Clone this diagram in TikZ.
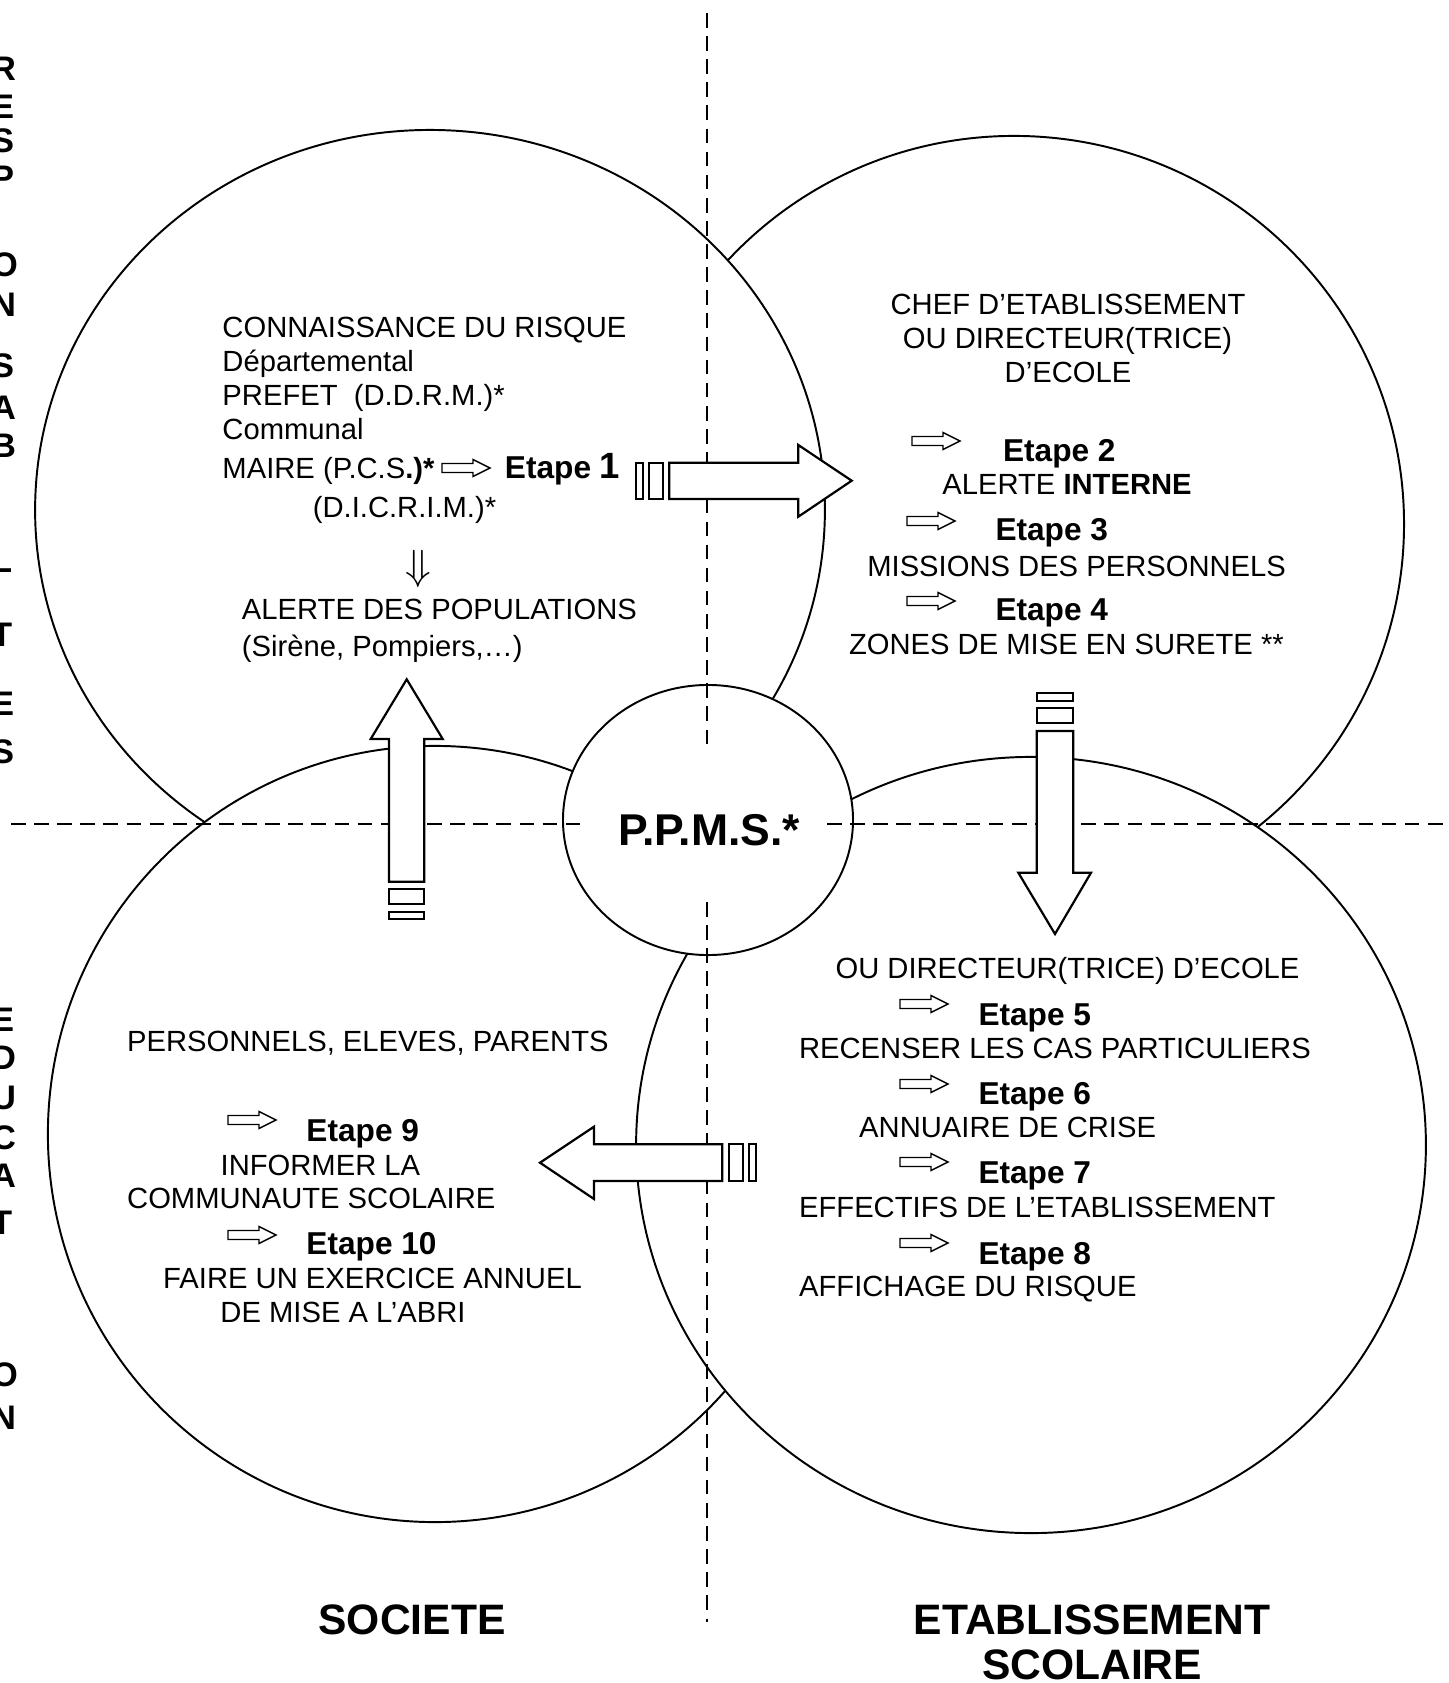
\documentclass[tikz,border=0pt]{standalone}
\usepackage{fontspec}
\setmainfont{Liberation Sans}
\usetikzlibrary{shapes.geometric}
\newcommand\smarr[2]{\draw[smallarr] (#1,#2) ++(0,-4.5) -- ++(31,0) -- ++(0,-4) -- ++(17,8.5) -- ++(-17,8.5) -- ++(0,-4) -- ++(-31,0) -- cycle;}
\begin{document}
\begin{tikzpicture}[x=0.411pt,y=-0.411pt,
  ell/.style={draw, fill=white, line width=0.8pt},
  bigarr/.style={draw, fill=white, line width=0.9pt, line join=miter},
  smallarr/.style={draw, line width=0.6pt, line join=miter},
  dashln/.style={line width=0.8pt, dash pattern=on 6pt off 3.5pt},
  txt/.style={anchor=base west, inner sep=0, font=\fontsize{12}{14}\selectfont},
  txtc/.style={anchor=base, inner sep=0, font=\fontsize{12}{14}\selectfont},
  etp/.style={anchor=base west, inner sep=0, font=\fontsize{13}{15}\selectfont\bfseries},
  vlet/.style={anchor=base west, inner sep=0, font=\fontsize{14}{16}\selectfont\bfseries},
  ttl/.style={anchor=base, inner sep=0, font=\fontsize{17.5}{20}\selectfont\bfseries}]
\useasboundingbox[fill=white] (0,0) rectangle (1448,1683);

% ellipses
\coordinate (ctr) at (1014,524);
\coordinate (ctl) at (430,510);
\coordinate (cbl) at (435,1134);
\coordinate (cbr) at (1031,1145);
\coordinate (cpp) at (708,820);
\draw[ell] (ctr) ellipse [x radius=160.3pt, y radius=159.5pt];
\draw[ell] (ctl) ellipse [x radius=162.3pt, y radius=156.2pt];
\draw[ell] (cbl) ellipse [x radius=159.1pt, y radius=159.5pt];
\draw[ell] (cbr) ellipse [x radius=162.3pt, y radius=159.5pt];
\draw[ell] (cpp) ellipse [x radius=59.6pt, y radius=55.5pt];

% dashed axes
\coordinate (vt) at (707,13);  \coordinate (vm1) at (707,750);
\coordinate (vm2) at (707,902); \coordinate (vb) at (707,1622);
\coordinate (hl) at (11,824);  \coordinate (hm1) at (587,824);
\coordinate (hm2) at (827,824); \coordinate (hr) at (1448,824);
\draw[dashln] (vt) -- (vm1);
\draw[dashln] (vm2) -- (vb);
\draw[dashln] (hl) -- (hm1);
\draw[dashln] (hm2) -- (hr);

% big arrows
\draw[bigarr] (669.3,462.7) -- (798.3,462.7) -- (798.3,445) -- (851.7,480.7) -- (798.3,516.7) -- (798.3,499) -- (669.3,499) -- cycle;
\draw[bigarr] (636,462.7) rectangle (642.7,499);
\draw[bigarr] (649.3,462.7) rectangle (663.3,499);

\draw[bigarr] (389,881.7) -- (389,739) -- (370.7,739) -- (406.7,679.3) -- (442.7,739) -- (424.3,739) -- (424.3,881.7) -- cycle;
\draw[bigarr] (389,889) rectangle (424.3,904.3);
\draw[bigarr] (389,911.7) rectangle (424.3,919.3);

\draw[bigarr] (1036.7,693.3) rectangle (1073.3,700.7);
\draw[bigarr] (1036.7,708.3) rectangle (1073.3,723.3);
\draw[bigarr] (1036.7,731) -- (1073.3,731) -- (1073.3,872.7) -- (1091,872.7) -- (1055,934) -- (1018.3,872.7) -- (1036.7,872.7) -- cycle;

\draw[bigarr] (722.3,1144.3) -- (594,1144.3) -- (594,1126.7) -- (540,1162.7) -- (594,1199) -- (594,1181) -- (722.3,1181) -- cycle;
\draw[bigarr] (729,1144.3) rectangle (742.7,1181);
\draw[bigarr] (749.3,1144.3) rectangle (756.3,1181);

% centre
\node[anchor=base west, inner sep=0, font=\fontsize{18.3}{22}\selectfont\bfseries] (ppms) at (618,845) {P.P.M.S.*};

% top left
\node[txt] (t1) at (222,337) {CONNAISSANCE DU RISQUE};
\node[txt] (t2) at (222,371) {Départemental};
\node[txt] (t3) at (222,405.5) {PREFET\ \ (D.D.R.M.)*};
\node[txt] (t4) at (222,439) {Communal};
\node[txt] (t5) at (222,478.5) {MAIRE (P.C.S\textbf{.)*}};
\smarr{442}{468}
\node[etp] (e1) at (504.5,478.5) {Etape {\fontsize{15}{17}\selectfont 1}};
\node[txt] (t6) at (312.4,517) {(D.I.C.R.I.M.)*};
\node[inner sep=0, font=\fontsize{16}{18}\selectfont] (dn) at (418.6,569) {$\Downarrow$};
\node[txt] (t7) at (241.5,619) {ALERTE DES POPULATIONS};
\node[txt] (t8) at (241.5,656) {(Sirène, Pompiers,…)};

% top right
\node[txtc] (r1) at (1068,314) {CHEF D’ETABLISSEMENT};
\node[txtc] (r2) at (1067.5,348.6) {OU DIRECTEUR(TRICE)};
\node[txtc] (r3) at (1068,382) {D’ECOLE};
\smarr{912}{441}
\node[etp] (e2) at (1002.6,461) {Etape 2};
\node[txtc] (r4) at (1067,494.6) {ALERTE \textbf{INTERNE}};
\smarr{907}{521}
\node[etp] (e3) at (995,540) {Etape 3};
\node[txtc] (r5) at (1076.6,576) {MISSIONS DES PERSONNELS};
\smarr{907}{601}
\node[etp] (e4) at (995,620) {Etape 4};
\node[txtc] (r6) at (1066.4,654.5) {ZONES DE MISE EN SURETE **};

% bottom right
\node[txtc] (b1) at (1067.5,978.7) {OU DIRECTEUR(TRICE) D’ECOLE};
\smarr{900}{1004}
\node[etp] (e5) at (978,1025) {Etape 5};
\node[txt] (b2) at (798.6,1058) {RECENSER LES CAS PARTICULIERS};
\smarr{900}{1084}
\node[etp] (e6) at (978,1104) {Etape 6};
\node[txt] (b3) at (858.7,1137.5) {ANNUAIRE DE CRISE};
\smarr{900}{1162}
\node[etp] (e7) at (978,1183) {Etape 7};
\node[txt] (b4) at (798.6,1217) {EFFECTIFS DE L’ETABLISSEMENT};
\smarr{900}{1243}
\node[etp] (e8) at (978,1264) {Etape 8};
\node[txt] (b5) at (798.6,1296.5) {AFFICHAGE DU RISQUE};

% bottom left
\node[txt] (l1) at (126.7,1051.7) {PERSONNELS, ELEVES, PARENTS};
\smarr{228}{1120}
\node[etp] (e9) at (306,1141) {Etape 9};
\node[txtc] (l2) at (320.4,1175) {INFORMER LA};
\node[txt] (l3) at (126.7,1208.5) {COMMUNAUTE SCOLAIRE};
\smarr{228}{1235}
\node[etp] (e10) at (306,1254) {Etape 10};
\node[txtc] (l4) at (372.5,1288) {FAIRE UN EXERCICE ANNUEL};
\node[txt] (l5) at (220,1322) {DE MISE A L’ABRI};

% titles
\node[ttl] (soc) at (412,1634) {SOCIETE};
\node[ttl] (eta) at (1092,1634) {ETABLISSEMENT};
\node[ttl] (sco) at (1092,1679) {SCOLAIRE};

% vertical letters
\foreach \l/\yy [count=\i] in {R/81,E/119,S/153,P/190,O/276,N/316,S/377,A/419,B/457,I/510,L/572,I/609,T/646,E/715,S/763}
  \node[vlet] (va\i) at (-9,\yy) {\l};
\foreach \l/\yy [count=\i] in {E/1031,D/1069,U/1109,C/1149,A/1187,T/1234,I/1300,O/1386,N/1429}
  \node[vlet] (vb\i) at (-9,\yy) {\l};
\end{tikzpicture}
\end{document}
